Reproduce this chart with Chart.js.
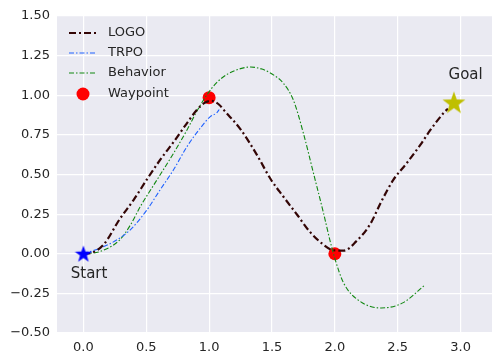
<!DOCTYPE html>
<html>
<head>
<meta charset="utf-8">
<script src="https://cdn.jsdelivr.net/npm/chart.js@4"></script>
<style>
  html, body { margin: 0; padding: 0; background: #fff; }
  canvas { display: block; }
</style>
</head>
<body>
<canvas id="grafico" width="492" height="356"></canvas>
<script>
// ticks
var xTicks = [0, 0.5, 1, 1.5, 2, 2.5, 3];
var yTicks = [-0.5, -0.25, 0, 0.25, 0.5, 0.75, 1, 1.25, 1.5];

// LOGO path
var logoX = [0, 0.06, 0.16, 0.29, 0.40, 0.51, 0.61, 0.72, 0.82, 0.90, 0.96, 1.02, 1.08, 1.13, 1.25, 1.38, 1.49, 1.59, 1.70, 1.80, 1.91, 1.99, 2.07, 2.17, 2.28, 2.37, 2.465, 2.57, 2.68, 2.76, 2.875, 2.90];
var logoY = [0, 0.005, 0.057, 0.22, 0.34, 0.475, 0.592, 0.708, 0.82, 0.905, 0.95, 0.965, 0.94, 0.895, 0.785, 0.624, 0.47, 0.361, 0.246, 0.14, 0.057, 0.022, 0.02, 0.078, 0.185, 0.33, 0.466, 0.57, 0.687, 0.781, 0.897, 0.915];

// TRPO path
var trpoX = [0, 0.135, 0.268, 0.373, 0.506, 0.61, 0.717, 0.824, 0.929, 1.009, 1.062, 1.08];
var trpoY = [0, 0.036, 0.088, 0.151, 0.277, 0.403, 0.53, 0.676, 0.792, 0.865, 0.89, 0.91];

// Behavior path
var behX = [0, 0.135, 0.29, 0.373, 0.453, 0.585, 0.717, 0.824, 0.903, 0.98, 1.06, 1.15, 1.25, 1.33, 1.42, 1.49, 1.59, 1.67, 1.75, 1.83, 1.91, 1.96, 2.0, 2.07, 2.2, 2.37, 2.54, 2.72];
var behY = [0, 0.015, 0.088, 0.18, 0.298, 0.466, 0.634, 0.781, 0.90, 1.0, 1.08, 1.135, 1.168, 1.178, 1.165, 1.139, 1.076, 0.97, 0.76, 0.508, 0.256, 0.088, -0.03, -0.185, -0.30, -0.342, -0.31, -0.195];

// waypoints, start, goal
var wayX = [1.0, 2.0];
var wayY = [0.985, 0.0];
var startPt = [0, 0];
var goalPt = [2.947, 0.955];

// text labels (x, y in data units)
var notas = [
  { txt: 'Start', x: 0.045, y: -0.15 },
  { txt: 'Goal', x: 3.04, y: 1.1 }
];

function pts(xs, ys) {
  return xs.map(function (x, i) { return { x: x, y: ys[i] }; });
}

function estrella(size, color) {
  var c = document.createElement('canvas');
  c.width = size; c.height = size;
  var g = c.getContext('2d');
  var r = size / 2, ri = r * 0.4, cx = r, cy = r * 1.08;
  g.beginPath();
  for (var i = 0; i < 10; i++) {
    var a = -Math.PI / 2 + i * Math.PI / 5;
    var rr = (i % 2 === 0) ? r : ri;
    g.lineTo(cx + rr * Math.cos(a), cy + rr * Math.sin(a));
  }
  g.closePath();
  g.fillStyle = color;
  g.fill();
  return c;
}

var fuente = 'DejaVu Sans';
var texto = '#262626';

var fondo = {
  id: 'fondo',
  beforeDraw: function (chart) {
    var a = chart.chartArea, ctx = chart.ctx;
    ctx.save();
    ctx.fillStyle = '#EAEAF2';
    ctx.fillRect(a.left, a.top, a.right - a.left, a.bottom - a.top);
    ctx.restore();
  }
};

var leyenda = {
  id: 'leyenda',
  afterDraw: function (chart) {
    var ctx = chart.ctx;
    var xs = chart.scales.x, ys = chart.scales.y;
    ctx.save();
    // annotations
    ctx.fillStyle = texto;
    ctx.font = '15px "' + fuente + '"';
    ctx.textAlign = 'center';
    ctx.textBaseline = 'alphabetic';
    notas.forEach(function (n) {
      ctx.fillText(n.txt, xs.getPixelForValue(n.x), ys.getPixelForValue(n.y));
    });
    // legend
    var filas = [
      { t: 'LOGO', c: '#330505', w: 2.2, d: [7, 3, 2, 3] },
      { t: 'TRPO', c: '#1f62ff', w: 1.1, d: [5, 2, 1.5, 2] },
      { t: 'Behavior', c: '#118811', w: 1.1, d: [5, 2, 1.5, 2] },
      { t: 'Waypoint', c: '#ff0000' }
    ];
    var y0 = [33, 53, 73, 94];
    ctx.font = '13px "' + fuente + '"';
    ctx.textAlign = 'left';
    ctx.textBaseline = 'middle';
    filas.forEach(function (f, i) {
      var y = y0[i];
      if (f.d) {
        ctx.beginPath();
        ctx.setLineDash(f.d);
        ctx.strokeStyle = f.c;
        ctx.lineWidth = f.w;
        ctx.moveTo(69, y);
        ctx.lineTo(97, y);
        ctx.stroke();
        ctx.setLineDash([]);
      } else {
        ctx.beginPath();
        ctx.fillStyle = f.c;
        ctx.arc(83, y, 6.5, 0, Math.PI * 2);
        ctx.fill();
      }
      ctx.fillStyle = texto;
      ctx.fillText(f.t, 108, y);
    });
    ctx.restore();
  }
};

function linea(label, xs, ys, color, w, dash) {
  return {
    label: label,
    data: pts(xs, ys),
    showLine: true,
    borderColor: color,
    backgroundColor: color,
    borderWidth: w,
    borderDash: dash,
    pointRadius: 0,
    cubicInterpolationMode: 'monotone',
    order: 1
  };
}

var ctx = document.getElementById('grafico').getContext('2d');
var grafico = new Chart(ctx, {
  type: 'scatter',
  data: {
    datasets: [
      {
        label: 'Start',
        data: [{ x: startPt[0], y: startPt[1] }],
        pointStyle: estrella(18, '#0000ff'),
        pointRadius: 9,
        order: 0
      },
      {
        label: 'Goal',
        data: [{ x: goalPt[0], y: goalPt[1] }],
        pointStyle: estrella(24, '#bfbf00'),
        pointRadius: 12,
        order: 0
      },
      linea('LOGO', logoX, logoY, '#330505', 2.2, [7, 3, 2, 3]),
      linea('TRPO', trpoX, trpoY, '#1f62ff', 1.1, [5, 2, 1.5, 2]),
      linea('Behavior', behX, behY, '#118811', 1.1, [5, 2, 1.5, 2]),
      {
        label: 'Waypoint',
        data: pts(wayX, wayY),
        pointStyle: 'circle',
        pointRadius: 6.5,
        backgroundColor: '#ff0000',
        borderWidth: 0,
        order: 2
      }
    ]
  },
  options: {
    responsive: false,
    animation: false,
    devicePixelRatio: 1,
    layout: { autoPadding: false, padding: { top: 16, right: 0, left: 0, bottom: 0 } },
    plugins: {
      legend: { display: false },
      tooltip: { enabled: false }
    },
    scales: {
      x: {
        type: 'linear',
        min: -0.21,
        max: 3.25,
        afterFit: function (s) { s.height = 23; s.paddingLeft = 0; s.paddingRight = 0; },
        afterBuildTicks: function (s) { s.ticks = xTicks.map(function (v) { return { value: v }; }); },
        grid: { color: '#ffffff', lineWidth: 1.2, drawTicks: false },
        border: { display: false },
        ticks: {
          padding: 7,
          color: texto,
          font: { family: fuente, size: 13 },
          maxRotation: 0,
          callback: function (v) { return v.toFixed(1); }
        }
      },
      y: {
        type: 'linear',
        min: -0.5,
        max: 1.5,
        afterFit: function (s) { s.width = 57; s.paddingTop = 0; s.paddingBottom = 0; },
        afterBuildTicks: function (s) { s.ticks = yTicks.map(function (v) { return { value: v }; }); },
        grid: { color: '#ffffff', lineWidth: 1.2, drawTicks: false },
        border: { display: false },
        ticks: {
          padding: 7,
          color: texto,
          font: { family: fuente, size: 13 },
          callback: function (v) { return v.toFixed(2).replace('-', '\u2212'); }
        }
      }
    }
  },
  plugins: [fondo, leyenda]
});
</script>
</body>
</html>
